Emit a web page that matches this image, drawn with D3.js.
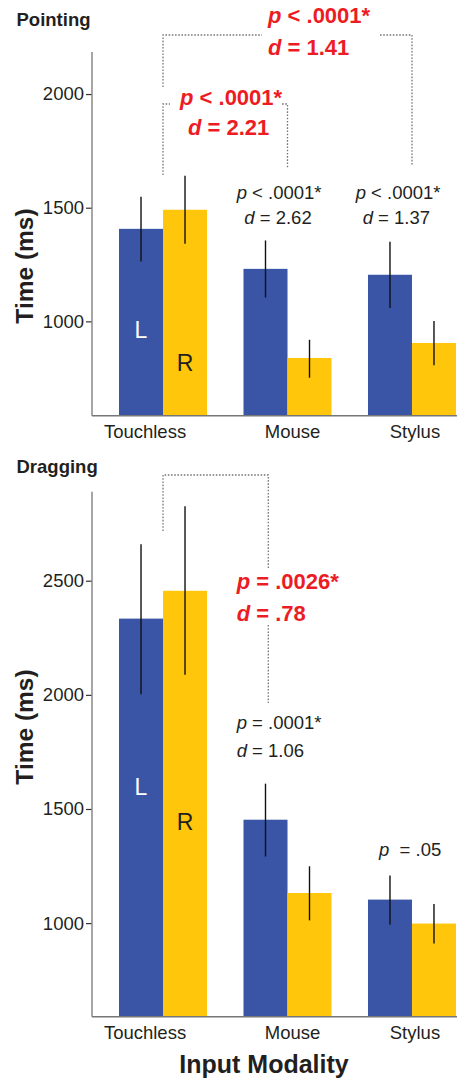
<!DOCTYPE html>
<html>
<head>
<meta charset="utf-8">
<script src="https://cdn.jsdelivr.net/npm/d3@7.9.0/dist/d3.min.js"></script>
<style>
  body { margin: 0; background: #fff; }
  svg { display: block; font-family: "Liberation Sans", Arial, sans-serif; }
  text { fill: #231f20; white-space: pre; }
</style>
</head>
<body>
<svg id="chart" width="457" height="1081"></svg>
<script>
// modalities and hand (L / R) means with error bar ends, in ms
const categories = ['Touchless', 'Mouse', 'Stylus'];

const pointLeft = [1407, 1231, 1205];
const pointLeftLo = [1263, 1105, 1059];
const pointLeftHi = [1548, 1356, 1350];
const pointRight = [1491, 839, 905];
const pointRightLo = [1341, 752, 807];
const pointRightHi = [1641, 919, 1002];

const dragLeft = [2334, 1453, 1103];
const dragLeftLo = [2003, 1292, 993];
const dragLeftHi = [2660, 1611, 1209];
const dragRight = [2456, 1132, 998];
const dragRightLo = [2088, 1012, 911];
const dragRightHi = [2826, 1249, 1084];

const pointTicks = [1000, 1500, 2000];
const dragTicks = [1000, 1500, 2000, 2500];

const BLUE = '#3a55a5';
const YELLOW = '#ffc60b';
const RED = '#ed1c24';

let svg = d3.select('#chart');

let x = d3.scaleBand()
  .domain(categories)
  .range([92, 483])
  .paddingInner(0.293)
  .paddingOuter(0.217);

function panel(opts) {
  let y = d3.scaleLinear().domain(opts.domain).range([opts.bottom, opts.top]);
  let g = svg.append('g');
  let half = x.bandwidth() / 2;

  let rows = categories.map((c, i) => ({
    cat: c,
    l: opts.left[i], lLo: opts.leftLo[i], lHi: opts.leftHi[i],
    r: opts.right[i], rLo: opts.rightLo[i], rHi: opts.rightHi[i]
  }));

  // bars
  g.selectAll('rect.l').data(rows).join('rect')
    .attr('x', d => x(d.cat)).attr('y', d => y(d.l))
    .attr('width', half).attr('height', d => opts.bottom - y(d.l))
    .attr('fill', BLUE);
  g.selectAll('rect.r').data(rows).join('rect')
    .attr('x', d => x(d.cat) + half).attr('y', d => y(d.r))
    .attr('width', half).attr('height', d => opts.bottom - y(d.r))
    .attr('fill', YELLOW);

  // error bars
  g.selectAll('line.el').data(rows).join('line')
    .attr('x1', d => x(d.cat) + half / 2).attr('x2', d => x(d.cat) + half / 2)
    .attr('y1', d => y(d.lLo)).attr('y2', d => y(d.lHi))
    .attr('stroke', '#111').attr('stroke-width', 1.4);
  g.selectAll('line.er').data(rows).join('line')
    .attr('x1', d => x(d.cat) + half * 1.5).attr('x2', d => x(d.cat) + half * 1.5)
    .attr('y1', d => y(d.rLo)).attr('y2', d => y(d.rHi))
    .attr('stroke', '#111').attr('stroke-width', 1.4);

  // y axis
  let ya = g.append('g')
    .attr('transform', 'translate(92,0)')
    .call(d3.axisLeft(y).tickValues(opts.ticks).tickFormat(d3.format('d'))
      .tickSize(6).tickPadding(2));
  ya.select('.domain').remove();
  ya.selectAll('.tick line').attr('stroke', '#333').attr('stroke-width', 1.2);
  ya.selectAll('.tick text')
    .attr('font-size', 18.5).attr('font-family', '"Liberation Sans", Arial, sans-serif')
    .attr('fill', '#231f20');
  g.append('line')
    .attr('x1', 92).attr('x2', 92).attr('y1', opts.top).attr('y2', opts.bottom)
    .attr('stroke', '#888').attr('stroke-width', 1.5);
  g.append('line')
    .attr('x1', 92).attr('x2', 457).attr('y1', opts.bottom).attr('y2', opts.bottom)
    .attr('stroke', '#777').attr('stroke-width', 1.5);

  // x labels
  let shift = { Touchless: -18, Mouse: 5, Stylus: 3 };
  g.selectAll('text.xl').data(categories).join('text')
    .attr('x', d => x(d) + x.bandwidth() / 2 + shift[d])
    .attr('y', opts.bottom + 22.5)
    .attr('text-anchor', 'middle')
    .attr('font-size', 18.5)
    .text(d => d);

  // L / R in first group
  let c0 = categories[0];
  g.append('text')
    .attr('x', x(c0) + half / 2).attr('y', opts.lY)
    .attr('text-anchor', 'middle').attr('font-size', 23)
    .style('fill', '#fff').text('L');
  g.append('text')
    .attr('x', x(c0) + half * 1.5).attr('y', opts.rY)
    .attr('text-anchor', 'middle').attr('font-size', 23)
    .text('R');

  // y title
  g.append('text')
    .attr('transform', `translate(33,${opts.titleY}) rotate(-90)`)
    .attr('text-anchor', 'middle')
    .attr('font-size', 24.5).attr('font-weight', 'bold')
    .text('Time (ms)');

  // panel title
  g.append('text')
    .attr('x', 16.5).attr('y', opts.nameY)
    .attr('font-size', 18.5).attr('font-weight', 'bold')
    .text(opts.name);

  return g;
}

function bracket(pts) {
  svg.append('path')
    .attr('d', d3.line()(pts))
    .attr('fill', 'none')
    .attr('stroke', '#777')
    .attr('stroke-width', 1.3)
    .attr('stroke-dasharray', '1.6,1.6');
}

// two-line stat label: the leading p / d is italic
function stat(xs, ys, lines, red) {
  lines.forEach((ln, i) => {
    let t = svg.append('text')
      .attr('x', xs[i]).attr('y', ys[i])
      .attr('font-size', red ? 22 : 18.5)
      .attr('font-weight', red ? 'bold' : 'normal')
      .style('fill', red ? RED : '#231f20');
    t.append('tspan').attr('font-style', 'italic').text(ln[0]);
    t.append('tspan').text(ln.slice(1));
  });
}

let ctr = c => x(c) + x.bandwidth() / 2;

// Pointing
panel({
  name: 'Pointing', nameY: 26,
  domain: [585, 2185], top: 52, bottom: 415.7, ticks: pointTicks,
  left: pointLeft, leftLo: pointLeftLo, leftHi: pointLeftHi,
  right: pointRight, rightLo: pointRightLo, rightHi: pointRightHi,
  lY: 338, rY: 371, titleY: 266
});

bracket([[ctr('Touchless'), 87], [ctr('Touchless'), 35], [262, 35]]);
bracket([[380, 35], [ctr('Stylus'), 35], [ctr('Stylus'), 166]]);
bracket([[ctr('Touchless'), 175], [ctr('Touchless'), 104], [170, 104]]);
bracket([[282, 104], [ctr('Mouse'), 104], [ctr('Mouse'), 168]]);

stat([268, 268], [23, 54.5], ['p < .0001*', 'd = 1.41'], true);
stat([180, 188], [104.5, 134.5], ['p < .0001*', 'd = 2.21'], true);
stat([236.7, 244.3], [198.5, 223.5], ['p < .0001*', 'd = 2.62'], false);
stat([355.7, 362.7], [198.5, 223.5], ['p < .0001*', 'd = 1.37'], false);

// Dragging
panel({
  name: 'Dragging', nameY: 473,
  domain: [590, 2890], top: 491.7, bottom: 1016.7, ticks: dragTicks,
  left: dragLeft, leftLo: dragLeftLo, leftHi: dragLeftHi,
  right: dragRight, rightLo: dragRightLo, rightHi: dragRightHi,
  lY: 794.7, rY: 829.7, titleY: 727
});

bracket([[ctr('Touchless'), 531], [ctr('Touchless'), 475], [268.3, 475], [268.3, 569]]);
bracket([[268.3, 625], [268.3, 703]]);

stat([236.7, 236.7], [588.7, 620.7], ['p = .0026*', 'd = .78'], true);
stat([236.7, 236.7], [728.5, 756.7], ['p = .0001*', 'd = 1.06'], false);
stat([379], [855.7], ['p  = .05'], false);

svg.append('text')
  .attr('x', 264).attr('y', 1073)
  .attr('text-anchor', 'middle')
  .attr('font-size', 25).attr('font-weight', 'bold')
  .text('Input Modality');
</script>
</body>
</html>
